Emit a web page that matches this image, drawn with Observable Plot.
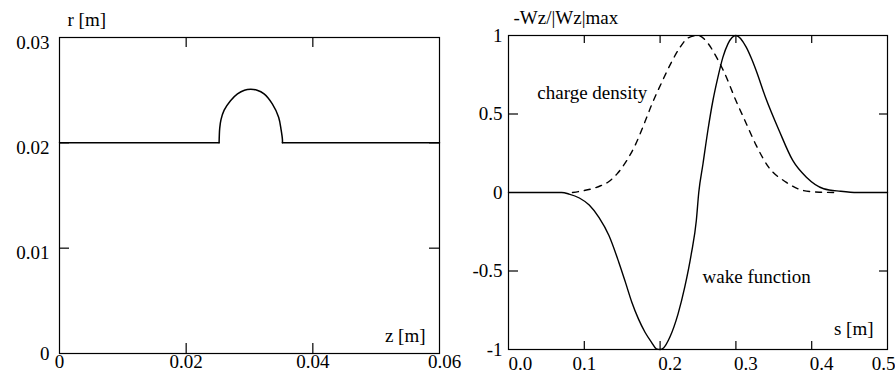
<!DOCTYPE html>
<html><head><meta charset="utf-8">
<script src="https://cdn.jsdelivr.net/npm/d3@7"></script>
<script src="https://cdn.jsdelivr.net/npm/@observablehq/plot@0.6"></script>
<style>
body{margin:0;background:#fff;}
#wrap{position:relative;width:895px;height:379px;overflow:hidden;background:#fff;}
#wrap svg{position:absolute;top:0;overflow:visible;background:transparent;}
#wrap svg, #wrap svg text{font-family:"Liberation Serif","Times New Roman","DejaVu Serif",serif !important;font-size:19px !important;}
</style></head><body><div id="wrap"></div>
<script>
// ---- Left panel: cavity profile r(z) ----
const cavityZ = [0, 0.0252, 0.0253, 0.0255, 0.0260, 0.0270, 0.0281, 0.0292, 0.0302, 0.0312, 0.0323, 0.0336, 0.0346, 0.0350, 0.0352, 0.0352, 0.06];
const cavityR = [0.02, 0.02, 0.0214, 0.0222, 0.0231, 0.0240, 0.02465, 0.0250, 0.02508, 0.0250, 0.02465, 0.0237, 0.02243, 0.0212, 0.0203, 0.02, 0.02];
const leftXTicks = [0, 0.02, 0.04, 0.06];
const leftXTickLabels = ["0", "0.02", "0.04", "0.06"];
const leftYTicks = [0, 0.01, 0.02, 0.03];
const leftYTickLabels = ["0", "0.01", "0.02", "0.03"];
const leftXTitle = "z [m]";
const leftYTitle = "r [m]";

// ---- Right panel: wake function and charge density ----
const wakeS = [0, 0.04, 0.07, 0.08, 0.0935, 0.1065, 0.1195, 0.1325, 0.1455, 0.1542, 0.1627, 0.1714, 0.1801, 0.1887, 0.1952, 0.2, 0.2045, 0.2128, 0.2237, 0.2325, 0.2412, 0.2478, 0.251, 0.2566, 0.263, 0.2697, 0.2763, 0.2829, 0.2895, 0.3, 0.3136, 0.3208, 0.3267, 0.339, 0.357, 0.375, 0.393, 0.4158, 0.438, 0.46, 0.5];
const wakeV = [0, 0, 0, -0.01, -0.035, -0.08, -0.16, -0.274, -0.444, -0.571, -0.699, -0.805, -0.89, -0.954, -0.996, -1, -0.99, -0.922, -0.773, -0.603, -0.39, -0.178, 0, 0.183, 0.395, 0.586, 0.735, 0.862, 0.947, 1, 0.926, 0.85, 0.777, 0.607, 0.395, 0.204, 0.097, 0.024, 0.008, 0, 0];
const chargeS = [0.0844, 0.097, 0.1104, 0.1215, 0.1325, 0.1435, 0.1542, 0.167, 0.18, 0.189, 0.202, 0.215, 0.227, 0.237, 0.25, 0.2632, 0.274, 0.2851, 0.3, 0.3136, 0.3268, 0.3434, 0.3661, 0.3887, 0.41, 0.43];
const chargeV = [0, 0.01, 0.024, 0.043, 0.07, 0.12, 0.19, 0.30, 0.45, 0.56, 0.70, 0.83, 0.93, 0.985, 1, 0.95, 0.865, 0.76, 0.586, 0.44, 0.30, 0.16, 0.066, 0.013, 0.002, 0];
const rightXTicks = [0, 0.1, 0.2, 0.3, 0.4, 0.5];
const rightXTickLabels = ["0.0", "0.1", "0.2", "0.3", "0.4", "0.5"];
const rightYTicks = [-1, -0.5, 0, 0.5, 1];
const rightYTickLabels = ["-1", "-0.5", "0", "0.5", "1"];
const rightXTitle = "s [m]";
const rightYTitle = "-Wz/|Wz|max";
const annotations = [
  {s: 0.038, v: 0.637, text: "charge density"},
  {s: 0.256, v: -0.535, text: "wake function"}
];

const FONT = "Liberation Serif";
const fmt = (ticks, labels) => d => labels[ticks.indexOf(d)];
const wrap = document.getElementById("wrap");

// Left plot
{
  const W = 450, H = 379, mL = 59, mR = 11, mT = 37, mB = 26;
  const iw = W - mL - mR, ih = H - mT - mB, tl = 10;
  const pts = cavityZ.map((z, i) => ({z, r: cavityR[i]}));
  const n = pts.length;
  const inner = [0.01, 0.02];
  const f = fmt(leftXTicks, leftXTickLabels), g = fmt(leftYTicks, leftYTickLabels);
  const svg = Plot.plot({
    width: W, height: H, marginLeft: mL, marginRight: mR, marginTop: mT, marginBottom: mB,
    x: {domain: [0, 0.06]}, y: {domain: [0, 0.03]},
    style: {fontFamily: FONT, fontSize: "19px", color: "black", background: "transparent", overflow: "visible"},
    marks: [
      Plot.frame({stroke: "black", strokeWidth: 1.2}),
      Plot.tickX([0.02, 0.04], {x: d => d, insetTop: ih - tl, stroke: "black", strokeWidth: 1.2}),
      Plot.tickX([0.02, 0.04], {x: d => d, insetBottom: ih - tl, stroke: "black", strokeWidth: 1.2}),
      Plot.tickY(inner, {y: d => d, insetRight: iw - tl, stroke: "black", strokeWidth: 1.2}),
      Plot.tickY(inner, {y: d => d, insetLeft: iw - tl, stroke: "black", strokeWidth: 1.2}),
      Plot.line(pts.slice(0, 2), {x: "z", y: "r", stroke: "black", strokeWidth: 1.5}),
      Plot.line(pts.slice(n - 2), {x: "z", y: "r", stroke: "black", strokeWidth: 1.5}),
      Plot.line(pts.slice(1, n - 1), {x: "z", y: "r", stroke: "black", strokeWidth: 1.5, curve: "catmull-rom"}),
      Plot.axisX(leftXTicks.slice(0, 3), {anchor: "bottom", tickSize: 0, tickPadding: 1, tickFormat: f, label: null}),
      Plot.axisX(leftXTicks.slice(3), {anchor: "bottom", tickSize: 0, tickPadding: 1, dx: 5, tickFormat: f, label: null}),
      Plot.axisY(leftYTicks.slice(1), {anchor: "left", tickSize: 0, tickPadding: 10, dy: 5, tickFormat: g, label: null}),
      Plot.axisY(leftYTicks.slice(0, 1), {anchor: "left", tickSize: 0, tickPadding: 10, tickFormat: g, label: null}),
      Plot.text([leftYTitle], {frameAnchor: "top-left", dx: 8, dy: -18, textAnchor: "start", lineAnchor: "middle", fill: "black"}),
      Plot.text([leftXTitle], {frameAnchor: "bottom-right", dx: -14, dy: -18, textAnchor: "end", lineAnchor: "middle", fill: "black"})
    ]
  });
  svg.style.left = "0px";
  wrap.appendChild(svg);
}

// Right plot
{
  const W = 445, H = 379, mL = 58, mR = 8, mT = 35, mB = 30;
  const iw = W - mL - mR, ih = H - mT - mB, tl = 8;
  const wake = wakeS.map((s, i) => ({s, v: wakeV[i]}));
  const charge = chargeS.map((s, i) => ({s, v: chargeV[i]}));
  const innerX = [0.1, 0.2, 0.3, 0.4], innerY = [-0.5, 0.5];
  const f = fmt(rightXTicks, rightXTickLabels), g = fmt(rightYTicks, rightYTickLabels);
  const svg = Plot.plot({
    width: W, height: H, marginLeft: mL, marginRight: mR, marginTop: mT, marginBottom: mB,
    x: {domain: [0, 0.5]}, y: {domain: [-1, 1]},
    style: {fontFamily: FONT, fontSize: "19px", color: "black", background: "transparent", overflow: "visible"},
    marks: [
      Plot.frame({stroke: "black", strokeWidth: 1.2}),
      Plot.tickX(innerX, {x: d => d, insetTop: ih - tl, stroke: "black", strokeWidth: 1.2}),
      Plot.tickX(innerX, {x: d => d, insetBottom: ih - tl, stroke: "black", strokeWidth: 1.2}),
      Plot.tickY(innerY, {y: d => d, insetRight: iw - 10, stroke: "black", strokeWidth: 1.2}),
      Plot.tickY(innerY, {y: d => d, insetLeft: iw - tl, stroke: "black", strokeWidth: 1.2}),
      Plot.line(charge, {x: "s", y: "v", stroke: "black", strokeWidth: 1.4, strokeDasharray: "6,6", curve: "monotone-x"}),
      Plot.line(wake, {x: "s", y: "v", stroke: "black", strokeWidth: 1.4, curve: "monotone-x"}),
      Plot.text(annotations, {x: "s", y: "v", text: "text", textAnchor: "start", lineAnchor: "middle", fill: "black"}),
      Plot.axisX(rightXTicks.slice(0, 1), {anchor: "bottom", tickSize: 0, tickPadding: 7, textAnchor: "start", tickFormat: f, label: null}),
      Plot.axisX(rightXTicks.slice(1, 2), {anchor: "bottom", tickSize: 0, tickPadding: 7, tickFormat: f, label: null}),
      Plot.axisX(rightXTicks.slice(2, 5), {anchor: "bottom", tickSize: 0, tickPadding: 7, dx: 10, tickFormat: f, label: null}),
      Plot.axisX(rightXTicks.slice(5), {anchor: "bottom", tickSize: 0, tickPadding: 7, dx: 8, textAnchor: "end", tickFormat: f, label: null}),
      Plot.axisY(rightYTicks, {anchor: "left", tickSize: 0, tickPadding: 6, tickFormat: g, label: null}),
      Plot.text([rightYTitle], {frameAnchor: "top-left", dx: 5, dy: -18, textAnchor: "start", lineAnchor: "middle", fill: "black"}),
      Plot.text([rightXTitle], {frameAnchor: "bottom-right", dx: -14, dy: -21, textAnchor: "end", lineAnchor: "middle", fill: "black"})
    ]
  });
  svg.style.left = "450px";
  wrap.appendChild(svg);
}
</script></body></html>
